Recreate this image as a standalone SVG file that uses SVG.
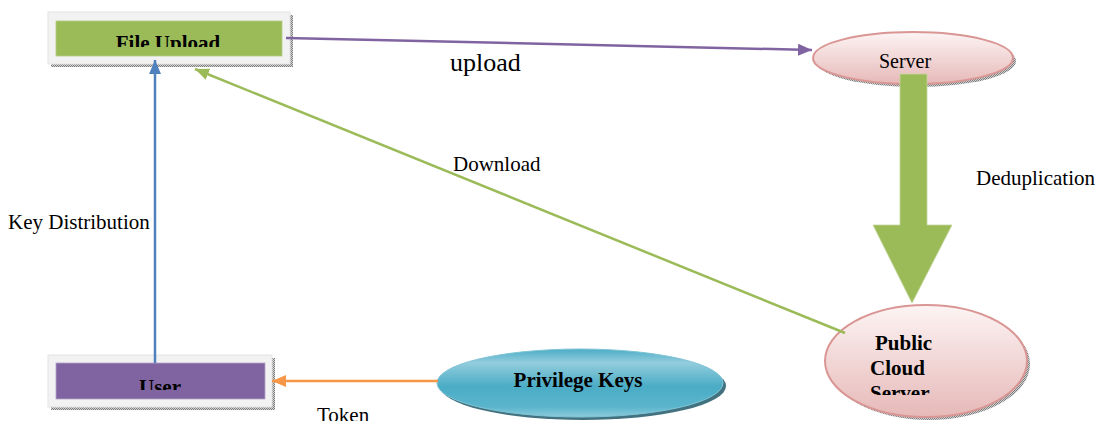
<svg xmlns="http://www.w3.org/2000/svg" width="1101" height="421" viewBox="0 0 1101 421">
  <defs>
    <style>
      .lbl { font-family: "Liberation Serif", "Times New Roman", serif; font-size: 21px; fill: #000; }
      .bold { font-family: "Liberation Serif", "Times New Roman", serif; font-size: 21px; font-weight: bold; fill: #000; }
      .frame { fill: #f2f2f2; stroke: #e4e4e4; stroke-width: 1; }
      .shadow { fill: url(#dots); }
      .conn { fill: none; stroke-width: 2.5; }
    </style>
    <pattern id="dots" width="2" height="2" patternUnits="userSpaceOnUse">
      <rect width="2" height="2" fill="#d0d0d0"/>
      <rect width="1" height="1" fill="#808080"/>
      <rect x="1" y="1" width="1" height="1" fill="#808080"/>
    </pattern>
    <linearGradient id="pink" x1="0" y1="0" x2="0" y2="1">
      <stop offset="0" stop-color="#fdf4f4"/>
      <stop offset="1" stop-color="#e6b9b8"/>
    </linearGradient>
    <linearGradient id="teal" x1="0" y1="0" x2="0" y2="1">
      <stop offset="0" stop-color="#4bacc6"/>
      <stop offset="0.2" stop-color="#93cddd"/>
      <stop offset="0.55" stop-color="#4bacc6"/>
      <stop offset="0.85" stop-color="#5ab5cc"/>
      <stop offset="1" stop-color="#8ccbdb"/>
    </linearGradient>
    <marker id="ah-purple" viewBox="0 0 14 12" refX="14" refY="6" markerWidth="14" markerHeight="12" markerUnits="userSpaceOnUse" orient="auto">
      <path d="M0,0 L14,6 L0,12 Z" fill="#8064a2"/>
    </marker>
    <marker id="ah-green" viewBox="0 0 14 12" refX="14" refY="6" markerWidth="14" markerHeight="12" markerUnits="userSpaceOnUse" orient="auto">
      <path d="M0,0 L14,6 L0,12 Z" fill="#9bbb59"/>
    </marker>
    <marker id="ah-blue" viewBox="0 0 14 12" refX="14" refY="6" markerWidth="14" markerHeight="12" markerUnits="userSpaceOnUse" orient="auto">
      <path d="M0,0 L14,6 L0,12 Z" fill="#4f81bd"/>
    </marker>
    <marker id="ah-orange" viewBox="0 0 14 12" refX="14" refY="6" markerWidth="14" markerHeight="12" markerUnits="userSpaceOnUse" orient="auto">
      <path d="M0,0 L14,6 L0,12 Z" fill="#f79646"/>
    </marker>
    <clipPath id="clip-upload"><rect x="56" y="21" width="226" height="26"/></clipPath>
    <clipPath id="clip-user"><rect x="56" y="363" width="209" height="27"/></clipPath>
    <clipPath id="clip-cloud"><rect x="840" y="320" width="120" height="75"/></clipPath>
  </defs>

  <rect width="1101" height="421" fill="#ffffff"/>

  <!-- File Upload box -->
  <g id="file-upload">
    <rect class="shadow" x="51" y="15" width="242" height="52"/>
    <rect class="frame" x="48" y="12" width="242" height="52"/>
    <rect x="56" y="21" width="226" height="35" fill="#9bbb59" stroke="#b5cc88" stroke-width="0.8"/>
    <text class="bold" x="168" y="50" text-anchor="middle" clip-path="url(#clip-upload)">File Upload</text>
  </g>

  <!-- Server -->
  <g id="server">
    <ellipse class="shadow" cx="916" cy="61" rx="100" ry="26"/>
    <ellipse cx="913" cy="58" rx="100" ry="26" fill="url(#pink)" stroke="#d99694" stroke-width="2"/>
    <text class="lbl" x="905" y="68" text-anchor="middle" style="font-size:20px">Server</text>
  </g>

  <!-- Public Cloud Server -->
  <g id="public-cloud">
    <ellipse class="shadow" cx="929" cy="364" rx="101" ry="56"/>
    <ellipse cx="926" cy="361" rx="101" ry="56" fill="url(#pink)" stroke="#d99694" stroke-width="2"/>
    <g clip-path="url(#clip-cloud)">
      <text class="bold" x="875" y="350">Public</text>
      <text class="bold" x="870" y="375">Cloud</text>
      <text class="bold" x="870" y="400">Server</text>
    </g>
  </g>

  <!-- User box -->
  <g id="user">
    <rect class="shadow" x="51" y="358" width="224" height="52"/>
    <rect class="frame" x="48" y="355" width="224" height="52"/>
    <rect x="56" y="363" width="209" height="36" fill="#8064a2" stroke="#b3a2c7" stroke-width="0.8"/>
    <text class="bold" x="160" y="394" text-anchor="middle" clip-path="url(#clip-user)">User</text>
  </g>

  <!-- Privilege Keys -->
  <g id="privilege-keys">
    <ellipse cx="583" cy="386" rx="143" ry="34" fill="#215968" opacity="0.85"/>
    <ellipse cx="580" cy="383" rx="143" ry="34" fill="url(#teal)" stroke="#7fc4d6" stroke-width="1"/>
    <text class="bold" x="578" y="387" text-anchor="middle">Privilege Keys</text>
  </g>

  <!-- Connectors -->
  <g id="connectors">
    <line class="conn" x1="286" y1="38" x2="812" y2="50" stroke="#8064a2" marker-end="url(#ah-purple)"/>
    <line class="conn" x1="845" y1="333" x2="195" y2="69" stroke="#9bbb59" stroke-width="2" marker-end="url(#ah-green)"/>
    <line class="conn" x1="155" y1="363" x2="155" y2="60" stroke="#4f81bd" marker-end="url(#ah-blue)"/>
    <line class="conn" x1="438" y1="381" x2="272" y2="381" stroke="#f79646" marker-end="url(#ah-orange)"/>
    <polygon points="900,74 927,74 927,225 952,225 912,303 873,225 900,225" fill="#9bbb59" stroke="#c3d69b" stroke-width="0.8"/>
  </g>

  <!-- Labels -->
  <g id="labels">
    <text class="lbl" x="450" y="71" style="font-size:26px">upload</text>
    <text class="lbl" x="453" y="171">Download</text>
    <text class="lbl" x="976" y="185">Deduplication</text>
    <text class="lbl" x="8" y="229">Key Distribution</text>
    <text class="lbl" x="317" y="422">Token</text>
  </g>
</svg>
